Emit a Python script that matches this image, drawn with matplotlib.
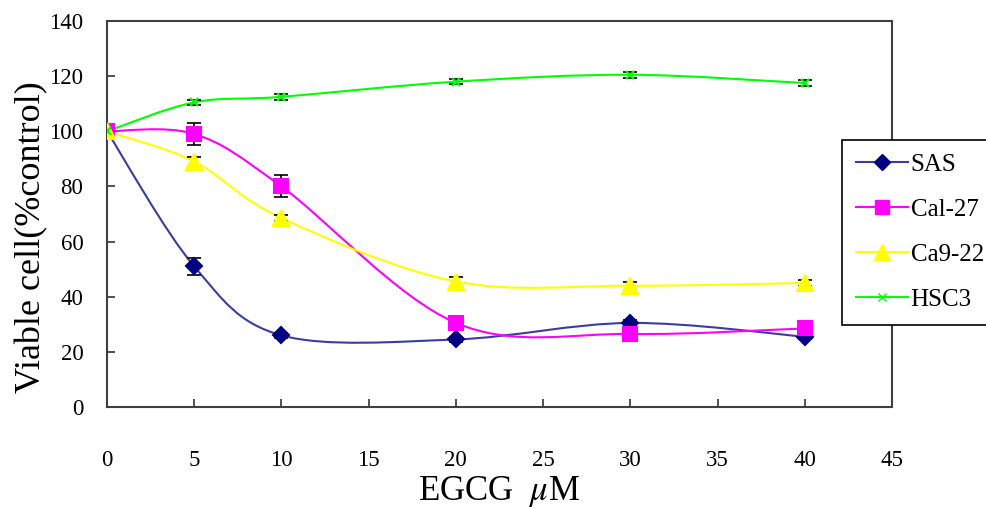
import matplotlib
matplotlib.use("Agg")
import matplotlib.pyplot as plt
from matplotlib.path import Path
from matplotlib.patches import PathPatch
from matplotlib.lines import Line2D
import numpy as np

doses = [0, 5, 10, 20, 30, 40]
sas = [100, 51, 26, 24.5, 30.5, 25.5]
sas_err = [1.5, 3, 1, 1, 1, 1]
cal27 = [100, 99, 80, 30.5, 26.5, 28.5]
cal27_err = [1.5, 4, 4, 2, 1, 1]
ca922 = [100, 89, 68.5, 45.5, 44, 45]
ca922_err = [1.5, 1.5, 1, 1.5, 1.5, 1]
hsc3 = [100, 110.5, 112.5, 118, 120.5, 117.5]
hsc3_err = [1, 1, 1, 1, 1, 1]
names = ["SAS", "Cal-27", "Ca9-22", "HSC3"]

plt.rcParams['font.family'] = ['Liberation Serif', 'DejaVu Serif']
plt.rcParams['mathtext.fontset'] = 'stix'

fig = plt.figure(figsize=(9.87, 5.07), dpi=100)
ax = fig.add_axes([0.1084, 0.1972, 0.7953, 0.7614])


def smooth_path(x, y):
    x = np.asarray(x, float)
    y = np.asarray(y, float)
    n = len(x)
    verts = [(x[0], y[0])]
    codes = [Path.MOVETO]
    for i in range(n - 1):
        p0 = np.array([x[max(i - 1, 0)], y[max(i - 1, 0)]])
        p1 = np.array([x[i], y[i]])
        p2 = np.array([x[i + 1], y[i + 1]])
        p3 = np.array([x[min(i + 2, n - 1)], y[min(i + 2, n - 1)]])
        c1 = p1 + (p2 - p0) / 6.0
        c2 = p2 - (p3 - p1) / 6.0
        verts += [tuple(c1), tuple(c2), tuple(p2)]
        codes += [Path.CURVE4] * 3
    return Path(verts, codes)


series = [
    (sas, sas_err, '#000080', '#3c3ca0', 'D', 8),
    (cal27, cal27_err, '#ff00ff', '#ff00ff', 's', 10),
    (ca922, ca922_err, '#ffff00', '#ffff00', '^', 11),
    (hsc3, hsc3_err, '#00ff00', '#00ff00', 'x', 6),
]

handles = []
for (vals, errs, mcol, lcol, mk, ms), name in zip(series, names):
    patch = PathPatch(smooth_path(doses, vals), facecolor='none',
                      edgecolor=lcol, lw=1.5, zorder=2)
    ax.add_patch(patch)
    ax.errorbar(doses, vals, yerr=errs, fmt='none', ecolor='black',
                elinewidth=1.2, capsize=5, capthick=1.2, zorder=3)
    ax.plot(doses, vals, linestyle='none', marker=mk, markersize=ms,
            color=mcol, markeredgecolor=mcol, markeredgewidth=1.5, zorder=4)
    handles.append(Line2D([], [], color=lcol, lw=1.5, marker=mk,
                          markersize=ms, markerfacecolor=mcol,
                          markeredgecolor=mcol, label=name))

ax.set_xlim(0, 45)
ax.set_ylim(0, 140)
ax.set_xticks(range(0, 46, 5))
ax.set_yticks(range(0, 141, 20))
ax.tick_params(direction='in', length=6, width=1.2, colors='#333333',
               labelcolor='black', labelsize=16.5)
ax.tick_params(axis='x', pad=31)
ax.tick_params(axis='y', pad=17)
for s in ax.spines.values():
    s.set_color('#404040')
    s.set_linewidth(1.5)

ax.set_xlabel('EGCG  $\\mu$M', fontsize=25, labelpad=2)
ax.set_ylabel('Viable cell(%control)', fontsize=26)
ax.yaxis.set_label_coords(-0.075, 0.44)

leg = fig.legend(handles=handles, loc='upper left',
                 bbox_to_anchor=(0.853, 0.724), fontsize=18, frameon=True,
                 fancybox=False, edgecolor='black', framealpha=1,
                 handlelength=2.1, labelspacing=0.9, borderpad=0.55,
                 handletextpad=0.1, borderaxespad=0)
leg.get_frame().set_linewidth(1.2)

fig.savefig('out.png', dpi=100)
